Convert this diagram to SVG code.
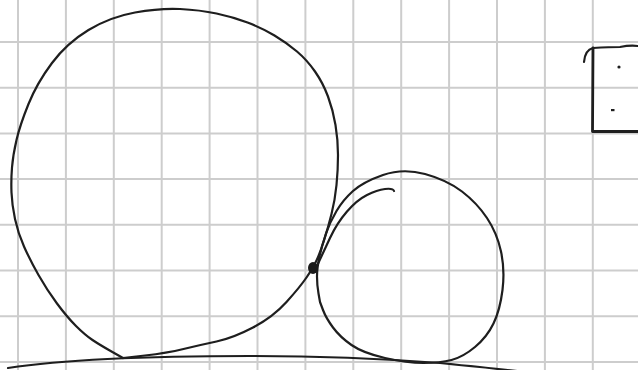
<svg xmlns="http://www.w3.org/2000/svg" width="638" height="370" viewBox="0 0 638 370">
<defs>
<style>
.grid{stroke:#cdcdcd;stroke-width:2;fill:none}
.ink{stroke:#1e1e1e;stroke-width:2.2;fill:none;stroke-linecap:round;stroke-linejoin:round}
</style>
</defs>
<rect width="638" height="370" fill="#ffffff"/>
<g id="grid" class="grid">
<path d="M18,0V370M65.9,0V370M113.8,0V370M161.7,0V370M209.6,0V370M257.5,0V370M305.4,0V370M353.3,0V370M401.2,0V370M449.1,0V370M497,0V370M544.9,0V370M592.8,0V370"/>
<path d="M0,42H638M0,87.7H638M0,133.4H638M0,179.1H638M0,224.8H638M0,270.5H638M0,316.2H638M0,361.9H638"/>
</g>
<g id="big-circle" class="ink">
<path d="M123,358 L111.5,351.5 Q100,345 92.5,340 Q85,335 76,326 Q67,317 57,303.5 Q47,290 38.5,275 Q30,260 24,246.5 Q18,233 15,219 Q12,205 11.5,192.5 Q11,180 12,167.5 Q13,155 16.5,140 Q20,125 28.5,104 Q37,83 52,63 Q67,43 88.5,30 Q110,17 135,12.5 Q160,8 180,9 Q200,10 216.5,13.5 Q233,17 247.5,22.5 Q262,28 274.5,35.5 Q287,43 297,51.5 Q307,60 315,71.5 Q323,83 328,96.5 Q333,110 335.5,125 Q338,140 338,155 Q338,170 336.5,185 Q335,200 331.5,214 Q328,228 324,240.5 Q320,253 316.5,260.5 Q313,268 306.5,277.5 Q300,287 286.5,302 Q273,317 253,327.5 Q233,338 216.5,341.5 Q200,345 183.5,349 Q167,353 145,355.5 L123,358"/>
</g>
<g id="small-circle" class="ink">
<path d="M320,302 L318.5,293.5 Q317,285 317,276.5 Q317,268 319.5,256.5 Q322,245 326,233.5 Q330,222 336.5,211 Q343,200 353,191 Q363,182 383,175 Q403,168 425,174 Q447,180 462,191.5 Q477,203 487,218 Q497,233 501,251.5 Q505,270 502.5,290 Q500,310 493.5,323.5 Q487,337 475,347 Q463,357 451.5,360 Q440,363 423.5,363 Q407,363 385,358 Q363,353 351.5,345 Q340,337 333,327.5 Q326,318 323,310 L320,302"/>
<path d="M316,268 Q323,253 330,238 Q337,223 347,211.5 Q357,200 367,195 Q377,190 385,189 Q393,188 394,191"/>
</g>
<g id="contact-point">
<ellipse cx="313" cy="268" rx="5" ry="6" fill="#1a1a1a"/>
</g>
<g id="ground" class="ink">
<path d="M8,368 C60,360 150,356 250,356 C330,356 400,360 440,363 C470,366 500,369 525,372"/>
</g>
<g id="box">
<path class="ink" d="M584,62 Q585,50 593,48 Q610,47 620,47 Q630,45 638,46"/>
<path class="ink" style="stroke-width:2.8" d="M593,48 L592.5,131.5 L638,131.5"/>
<circle cx="619" cy="67" r="1.6" fill="#1e1e1e"/>
<rect x="611" y="109" width="3.5" height="2.2" fill="#1e1e1e"/>
</g>
</svg>
